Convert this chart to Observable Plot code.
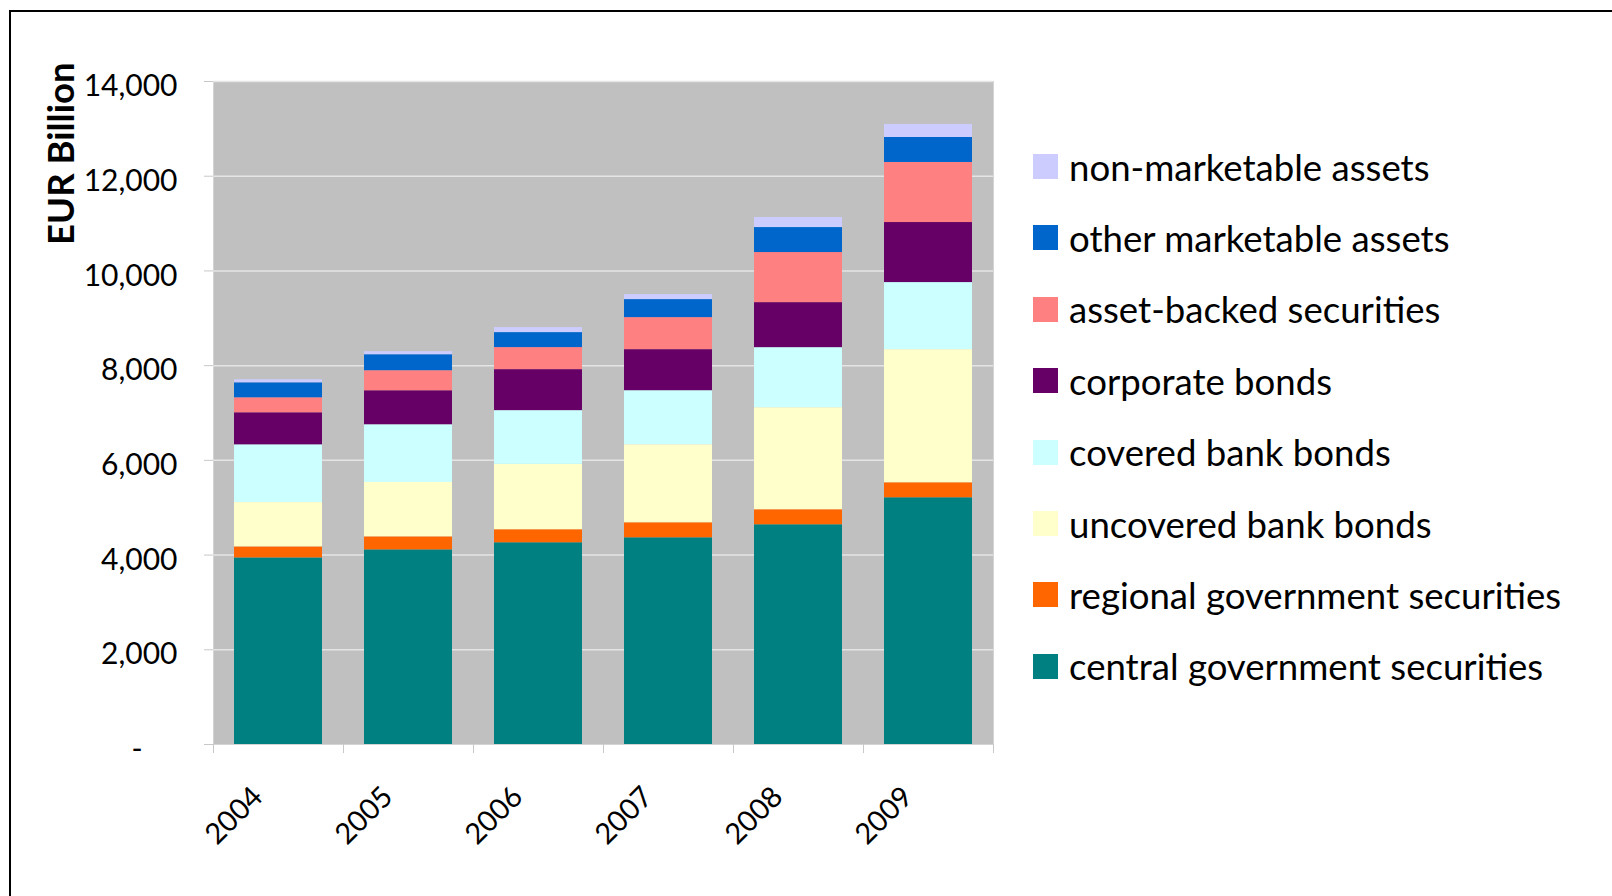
<!DOCTYPE html>
<html>
<head>
<meta charset="utf-8">
<script src="https://cdn.jsdelivr.net/npm/d3@7"></script>
<script src="https://cdn.jsdelivr.net/npm/@observablehq/plot@0.6"></script>
<style>
  html, body { margin: 0; padding: 0; background: #fff; width: 1612px; height: 896px; overflow: hidden; }
  body { position: relative; font-family: Lato, "DejaVu Sans", sans-serif; }
  #frame { position: absolute; left: 9px; top: 10px; width: 1700px; height: 1000px; border-left: 2px solid #000; border-top: 2px solid #000; }
  #chart { position: absolute; left: 0; top: 0; }
  #legend { position: absolute; left: 1033px; top: 154px; }
  .row { position: absolute; left: 0; height: 25px; display: flex; align-items: center; white-space: nowrap; }
  .sw { width: 25px; height: 25px; flex: none; }
  .lab { margin-left: 11px; font-size: 36.6px; color: #000; font-family: Lato, sans-serif; }
</style>
</head>
<body>
<div id="frame"></div>
<div id="chart"></div>
<div id="legend"></div>
<script>
// ---- data ----
const years = ["2004", "2005", "2006", "2007", "2008", "2009"];
const seriesNames = [
  "central government securities",
  "regional government securities",
  "uncovered bank bonds",
  "covered bank bonds",
  "corporate bonds",
  "asset-backed securities",
  "other marketable assets",
  "non-marketable assets"
];
const seriesColors = ["#008080", "#FF6600", "#FFFFCC", "#CCFFFF", "#660066", "#FF8080", "#0066CC", "#CCCCFF"];
const centralGov   = [3940, 4110, 4260, 4365, 4640, 5210];
const regionalGov  = [233, 275, 275, 317, 317, 317];
const uncovered    = [936, 1148, 1380, 1648, 2155, 2811];
const covered      = [1219, 1219, 1135, 1141, 1268, 1416];
const corporate    = [677, 718, 866, 867, 951, 1268];
const assetBacked  = [316, 423, 465, 676, 1057, 1268];
const otherMkt     = [317, 338, 317, 381, 528, 528];
const nonMkt       = [64, 64, 106, 105, 211, 275];
const yTicks = [0, 2000, 4000, 6000, 8000, 10000, 12000, 14000];
const yLabel = "EUR Billion";

const seriesValues = [centralGov, regionalGov, uncovered, covered, corporate, assetBacked, otherMkt, nonMkt];
const table = [];
seriesNames.forEach((s, i) => years.forEach((y, j) => table.push({series: s, year: y, value: seriesValues[i][j]})));

const W = 1010, H = 896, ML = 213, MR = 17, MT = 81, MB = 152;
const step = (W - ML - MR) / years.length;
const fmt = d => d === 0 ? "-\u2007\u2007" : d3.format(",")(d);

const chart = Plot.plot({
  width: W, height: H,
  marginLeft: ML, marginRight: MR, marginTop: MT, marginBottom: MB,
  style: {fontFamily: "Lato, sans-serif", color: "#000", background: "transparent"},
  x: {domain: years, paddingInner: 0.323, paddingOuter: 0.1615, axis: null},
  y: {domain: [0, 14000], axis: null},
  color: {domain: seriesNames, range: seriesColors},
  marks: [
    Plot.frame({fill: "#C0C0C0", stroke: "#d4d4d4"}),
    Plot.gridY(yTicks.filter(d => d > 0), {stroke: "#e4e4e4", strokeOpacity: 1, strokeWidth: 1.5}),
    Plot.axisY({ticks: yTicks, tickSize: 9, tickFormat: () => "", stroke: "#c8c8c8", label: null}),
    Plot.text(yTicks, {y: d => d, text: fmt, frameAnchor: "left", textAnchor: "end", dx: -36, dy: 5, fontSize: 30, fill: "#000"}),
    Plot.barY(table, {x: "year", y: "value", fill: "series"}),
    Plot.axisX({ticks: years, tickSize: 9, tickFormat: () => "", dx: -step / 2, stroke: "#c8c8c8", label: null}),
    Plot.axisX({ticks: years.slice(-1), tickSize: 9, tickFormat: () => "", dx: step / 2, stroke: "#c8c8c8", label: null}),
    Plot.text(years, {x: d => d, text: d => d, frameAnchor: "bottom", rotate: -45, textAnchor: "end", dx: -14, dy: 54, fontSize: 29, fill: "#000"}),
    Plot.text([yLabel], {text: d => d, frameAnchor: "top-left", rotate: -90, textAnchor: "end", dx: -165, dy: -19, fontSize: 36.5, fontWeight: "bold", fill: "#000"})
  ]
});
document.getElementById("chart").appendChild(chart);

// ---- legend (top entry = top of stack) ----
const legend = document.getElementById("legend");
const order = seriesNames.map((s, i) => i).reverse();
order.forEach((i, k) => {
  const row = document.createElement("div");
  row.className = "row";
  row.style.top = (k * 71.4) + "px";
  const sw = document.createElement("div");
  sw.className = "sw";
  sw.style.background = seriesColors[i];
  const lab = document.createElement("span");
  lab.className = "lab";
  lab.textContent = seriesNames[i];
  row.appendChild(sw);
  row.appendChild(lab);
  legend.appendChild(row);
});
</script>
</body>
</html>
